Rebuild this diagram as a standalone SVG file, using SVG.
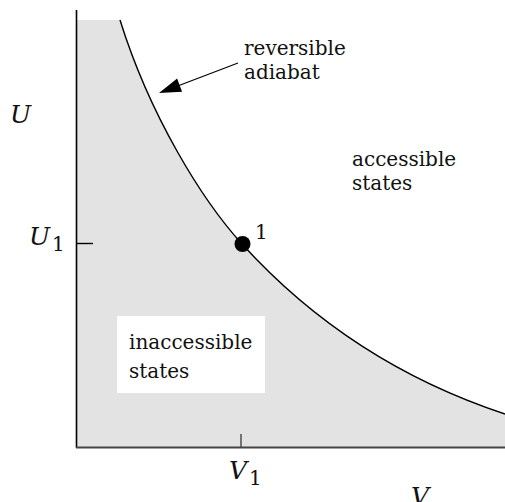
<svg xmlns="http://www.w3.org/2000/svg" width="505" height="502" viewBox="0 0 505 502">
<style>
.t{font-family:"DejaVu Serif","Liberation Serif",serif;font-size:20px;fill:#111}
.m{font-family:"DejaVu Serif","Liberation Serif",serif;font-style:italic;font-size:25px;fill:#111}
.s{font-family:"DejaVu Serif","Liberation Serif",serif;font-size:20px;fill:#111}
.ax{stroke:#000;stroke-width:1.6;fill:none}
</style>
<rect width="505" height="502" fill="#fff"/>
<g id="inaccessible-region">
<path d="M77,20 L120,20 C150,116 202,200 242,244 C322,332 415,384.3 505,414 L505,448 L77,448 Z" fill="#e3e3e3"/>
<rect x="117" y="316" width="148" height="77" fill="#fff"/>
<text class="t" x="129" y="349">inaccessible</text>
<text class="t" x="129" y="378">states</text>
</g>
<g id="axes">
<line class="ax" x1="76.5" y1="10" x2="76.5" y2="448"/>
<line x1="76" y1="447.5" x2="505" y2="447.5" stroke="#444" stroke-width="2.2"/>
<line x1="77" y1="243.5" x2="93" y2="243.5" stroke="#000" stroke-width="1.4"/>
<line x1="241" y1="434" x2="241" y2="447" stroke="#444" stroke-width="1.4"/>
<text class="m" x="10" y="123">U</text>
<text class="m" x="29" y="245">U</text>
<text class="s" x="52" y="251">1</text>
<text class="m" x="229" y="479">V</text>
<text class="s" x="249" y="485">1</text>
<text class="m" x="411" y="505">V</text>
</g>
<g id="adiabat">
<path d="M120,20 C150,116 202,200 242,244 C322,332 415,384.3 505,414" fill="none" stroke="#000" stroke-width="1.4"/>
</g>
<g id="state-1">
<circle cx="242.5" cy="244" r="8" fill="#000"/>
<text class="s" x="255" y="239" font-size="21">1</text>
</g>
<g id="connectors">
<line x1="238" y1="63" x2="179" y2="85.5" stroke="#000" stroke-width="1.2"/>
<polygon points="159,93 177.1,78.6 182.1,91.7" fill="#000"/>
</g>
<g id="label-adiabat">
<text class="t" x="244" y="55">reversible</text>
<text class="t" x="244" y="79">adiabat</text>
</g>
<g id="label-accessible">
<text class="t" x="352" y="166">accessible</text>
<text class="t" x="352" y="190">states</text>
</g>
</svg>
